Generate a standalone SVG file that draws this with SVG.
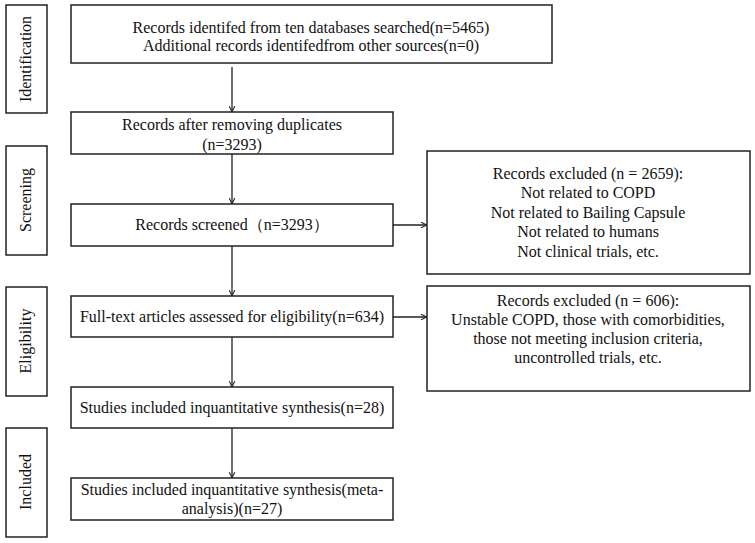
<svg xmlns="http://www.w3.org/2000/svg" width="755" height="543" viewBox="0 0 755 543">
<style>
.box{fill:#fff;stroke:#222;stroke-width:1.5}
text{font-family:"Liberation Serif","Times New Roman",serif;font-size:16px;fill:#111;text-anchor:middle}
.edge{stroke:#222;stroke-width:1.3;fill:none;marker-end:url(#ah)}
</style>
<defs>
<marker id="ah" viewBox="0 0 10 10" refX="9.5" refY="5" markerWidth="7" markerHeight="7" markerUnits="userSpaceOnUse" orient="auto">
<path d="M1,1 L9.5,5 L1,9" fill="none" stroke="#222" stroke-width="1.5"/>
</marker>
</defs>
<rect width="755" height="543" fill="#fff"/>
<g id="stage-identification"><rect class="box" x="6" y="5" width="41" height="108"/><text transform="translate(31,59) rotate(-90)">Identification</text></g>
<g id="stage-screening"><rect class="box" x="6" y="146" width="41" height="109"/><text transform="translate(31,200) rotate(-90)">Screening</text></g>
<g id="stage-eligibility"><rect class="box" x="6" y="287" width="41" height="109"/><text transform="translate(31,341) rotate(-90)">Eligibility</text></g>
<g id="stage-included"><rect class="box" x="6" y="428" width="41" height="109"/><text transform="translate(31,482) rotate(-90)">Included</text></g>

<g id="n-identified"><rect class="box" x="71" y="5" width="481" height="58"/>
<text x="311" y="33">Records identifed from ten databases searched(n=5465)</text>
<text x="311" y="51">Additional records identifedfrom other sources(n=0)</text></g>
<g id="n-dedup"><rect class="box" x="71" y="112" width="322" height="42"/>
<text x="232" y="130">Records after removing duplicates</text>
<text x="232" y="150">(n=3293)</text></g>
<g id="n-screened"><rect class="box" x="71" y="204" width="322" height="42"/>
<text x="232" y="230">Records screened（n=3293）</text></g>
<g id="n-fulltext"><rect class="box" x="71" y="296" width="322" height="41"/>
<text x="232" y="322">Full-text articles assessed for eligibility(n=634)</text></g>
<g id="n-qual"><rect class="box" x="71" y="387" width="322" height="41"/>
<text x="232" y="413">Studies included inquantitative synthesis(n=28)</text></g>
<g id="n-meta"><rect class="box" x="71" y="478" width="322" height="42"/>
<text x="232" y="495">Studies included inquantitative synthesis(meta-</text>
<text x="232" y="514">analysis)(n=27)</text></g>
<g id="n-excl1"><rect class="box" x="427" y="151" width="323" height="123"/>
<text x="588" y="179">Records excluded (n = 2659):</text>
<text x="588" y="198">Not related to COPD</text>
<text x="588" y="218">Not related to Bailing Capsule</text>
<text x="588" y="237">Not related to humans</text>
<text x="588" y="257">Not clinical trials, etc.</text></g>
<g id="n-excl2"><rect class="box" x="427" y="286" width="323" height="105"/>
<text x="588" y="306">Records excluded (n = 606):</text>
<text x="588" y="325">Unstable COPD, those with comorbidities,</text>
<text x="588" y="344">those not meeting inclusion criteria,</text>
<text x="588" y="363">uncontrolled trials, etc.</text></g>

<g id="connectors">
<path class="edge" d="M232,67 V112"/>
<path class="edge" d="M232,154 V204"/>
<path class="edge" d="M232,246 V296"/>
<path class="edge" d="M232,337 V387"/>
<path class="edge" d="M232,428 V478"/>
<path class="edge" d="M393,225 H427"/>
<path class="edge" d="M393,317 H427"/>
</g>
</svg>
